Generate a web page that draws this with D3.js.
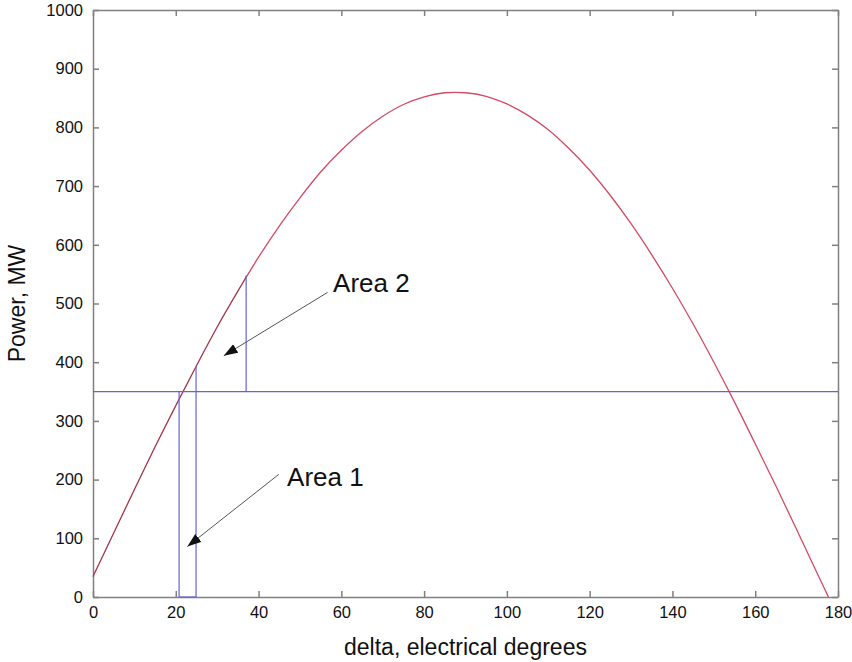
<!DOCTYPE html>
<html>
<head>
<meta charset="utf-8">
<script src="https://cdn.jsdelivr.net/npm/d3@7"></script>
<style>
body { margin: 0; background: #fff; }
svg { font-family: "Liberation Sans", Arial, sans-serif; }
.axis path, .axis line { stroke: #808080; stroke-width: 1.5; }
.axis text { fill: #111; font-size: 16.5px; }
</style>
</head>
<body>
<div id="main"></div>
<script>
// power-angle curve (delta in degrees, P in MW)
var deltaVals = [0, 5, 10, 15, 20, 25, 30, 35, 40, 45, 50, 55, 60, 65, 70, 75, 80, 85, 90,
    95, 100, 105, 110, 115, 120, 125, 130, 135, 140, 145, 150, 155, 160, 165, 170, 175, 177.7];
var powerVals = [35, 109, 183, 256, 326, 394, 460, 521, 579, 632, 680, 724, 761, 793, 819, 839, 852, 859, 859,
    853, 840, 821, 796, 764, 727, 684, 636, 583, 526, 465, 400, 332, 261, 189, 115, 40, 0];

// dark trace over the start of the curve
var darkDelta = [0, 5, 10, 15, 20, 25, 30, 35, 37];
var darkPower = [35, 109, 183, 256, 326, 394, 460, 521, 546];

// blue construction lines [x1, y1, x2, y2]
var mechPower = 350;
var blueLines = [
    [0, mechPower, 180, mechPower],
    [20.8, 0, 20.8, mechPower],
    [24.9, 0, 24.9, 393],
    [20.8, 0, 24.9, 0],
    [37, mechPower, 37, 548]
];

// annotations: label, text position, arrow start, arrow tip
var labels = ['Area 2', 'Area 1'];
var labelPos = [[58, 520], [46.9, 189]];
var arrowFrom = [[56.7, 519], [44.9, 209]];
var arrowTo = [[31.6, 411], [22.8, 86]];

var xTicks = [0, 20, 40, 60, 80, 100, 120, 140, 160, 180];
var yTicks = [0, 100, 200, 300, 400, 500, 600, 700, 800, 900, 1000];

var margin = {top: 10, right: 14, bottom: 65, left: 93};
var W = 852, H = 662;
var width = W - margin.left - margin.right,
    height = H - margin.top - margin.bottom;

var svg = d3.select('#main').append('svg')
    .attr('width', W)
    .attr('height', H)
    .append('g')
    .attr('transform', 'translate(' + margin.left + ',' + margin.top + ')');

var x = d3.scaleLinear().domain([0, 180]).range([0, width]);
var y = d3.scaleLinear().domain([0, 1000]).range([height, 0]);

// axes, ticks pointing inward like matlab
svg.append('g')
    .attr('class', 'axis')
    .attr('transform', 'translate(0,' + height + ')')
    .call(d3.axisBottom(x).tickValues(xTicks).tickFormat(d3.format('d'))
        .tickSizeInner(-6).tickSizeOuter(0).tickPadding(9));
svg.append('g')
    .attr('class', 'axis')
    .call(d3.axisLeft(y).tickValues(yTicks).tickFormat(d3.format('d'))
        .tickSizeInner(-6).tickSizeOuter(0).tickPadding(10));
svg.append('g')
    .attr('class', 'axis')
    .call(d3.axisTop(x).tickValues(xTicks).tickSizeInner(-6).tickSizeOuter(0).tickFormat(''));
svg.append('g')
    .attr('class', 'axis')
    .attr('transform', 'translate(' + width + ',0)')
    .call(d3.axisRight(y).tickValues(yTicks).tickSizeInner(-6).tickSizeOuter(0).tickFormat(''));

var line = d3.line()
    .x(d => x(d[0]))
    .y(d => y(d[1]))
    .curve(d3.curveCatmullRom);

svg.append('path')
    .datum(deltaVals.map((d, i) => [d, powerVals[i]]))
    .attr('d', line)
    .attr('fill', 'none')
    .attr('stroke', '#d34a64')
    .attr('stroke-width', 1.3);

svg.append('path')
    .datum(darkDelta.map((d, i) => [d, darkPower[i]]))
    .attr('d', line)
    .attr('fill', 'none')
    .attr('stroke', '#3a1a1a')
    .attr('stroke-opacity', 0.4)
    .attr('stroke-width', 1);

svg.selectAll('.blue')
    .data(blueLines)
    .enter()
    .append('line')
    .attr('class', 'blue')
    .attr('x1', d => x(d[0]))
    .attr('y1', d => y(d[1]))
    .attr('x2', d => x(d[2]))
    .attr('y2', d => y(d[3]))
    .attr('stroke', '#6464d6')
    .attr('stroke-width', 1.2);

// arrow heads
svg.append('defs').append('marker')
    .attr('id', 'head')
    .attr('viewBox', '0 0 14 10')
    .attr('refX', 14)
    .attr('refY', 5)
    .attr('markerWidth', 14)
    .attr('markerHeight', 10)
    .attr('markerUnits', 'userSpaceOnUse')
    .attr('orient', 'auto')
    .append('path')
    .attr('d', 'M0,0 L14,5 L0,10 Z')
    .attr('fill', '#111');

svg.selectAll('.arrow')
    .data(labels)
    .enter()
    .append('line')
    .attr('class', 'arrow')
    .attr('x1', (d, i) => x(arrowFrom[i][0]))
    .attr('y1', (d, i) => y(arrowFrom[i][1]))
    .attr('x2', (d, i) => x(arrowTo[i][0]))
    .attr('y2', (d, i) => y(arrowTo[i][1]))
    .attr('stroke', '#555')
    .attr('stroke-width', 1)
    .attr('marker-end', 'url(#head)');

svg.selectAll('.label')
    .data(labels)
    .enter()
    .append('text')
    .attr('class', 'label')
    .attr('x', (d, i) => x(labelPos[i][0]))
    .attr('y', (d, i) => y(labelPos[i][1]))
    .attr('font-size', '26px')
    .attr('fill', '#111')
    .text(d => d);

// axis titles
svg.append('text')
    .attr('x', width / 2)
    .attr('y', height + 58)
    .attr('text-anchor', 'middle')
    .attr('font-size', '23px')
    .attr('fill', '#111')
    .text('delta, electrical degrees');

svg.append('text')
    .attr('transform', 'translate(' + (-68) + ',' + (height / 2) + ') rotate(-90)')
    .attr('text-anchor', 'middle')
    .attr('font-size', '23px')
    .attr('fill', '#111')
    .text('Power, MW');
</script>
</body>
</html>
